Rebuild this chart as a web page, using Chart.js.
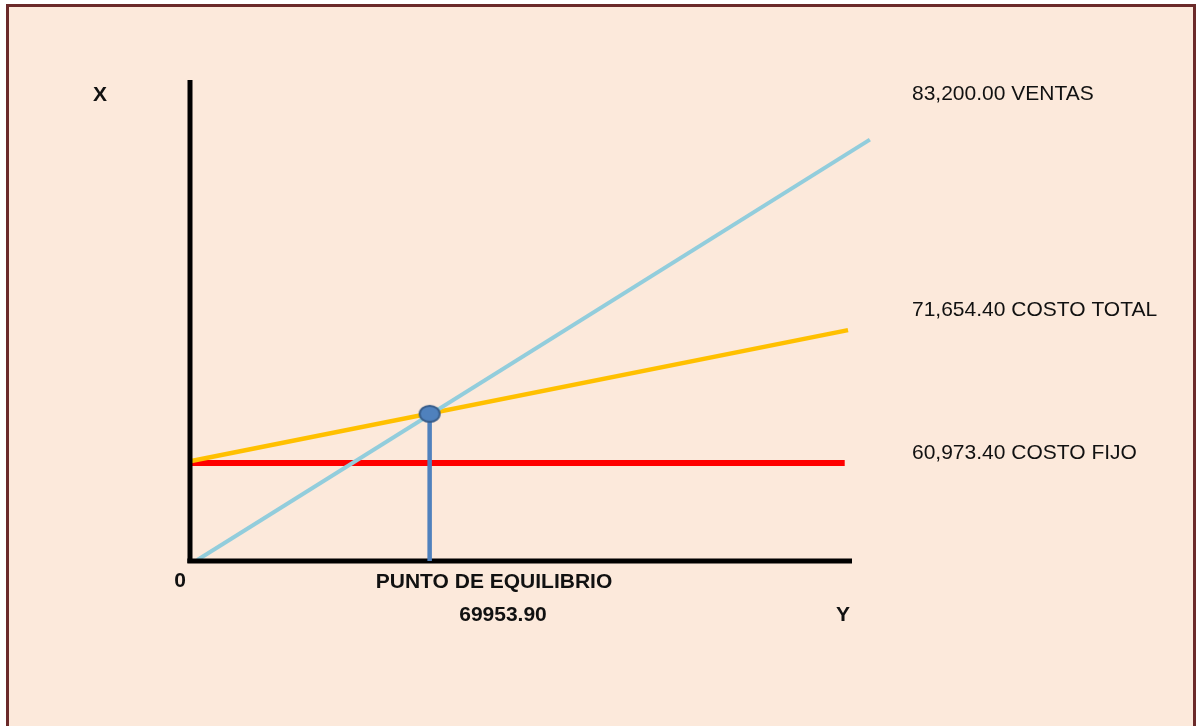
<!DOCTYPE html>
<html><head><meta charset="utf-8">
<script src="https://cdn.jsdelivr.net/npm/chart.js@4.4.1/dist/chart.umd.min.js"></script>
<style>html,body{margin:0;padding:0;background:#fff;}canvas{display:block}</style>
</head>
<body>
<canvas id="c" width="1198" height="726"></canvas>
<script>
// Abstract units: x 0..100 (volume), y 0..100 (amount)
const ventas = [{x:1.1, y:0.2}, {x:102.7, y:87.6}];
const costoTotal = [{x:0.2, y:20.8}, {x:99.4, y:48.0}];
const costoFijo = [{x:0, y:20.4}, {x:98.9, y:20.4}];
const puntoEquilibrio = [{x:36.2, y:30.6}];
const lineaEquilibrio = [{x:36.2, y:0}, {x:36.2, y:30.6}];
const ejeX = [{x:-0.4, y:0}, {x:100, y:0}];
const ejeY = [{x:0, y:-0.4}, {x:0, y:100}];
const etiquetasDerecha = ['83,200.00 VENTAS', '71,654.40 COSTO TOTAL', '60,973.40 COSTO FIJO'];
const etiquetaEjeVertical = 'X';
const etiquetaEjeHorizontal = 'Y';
const etiquetaOrigen = '0';
const etiquetaEquilibrio = 'PUNTO DE EQUILIBRIO';
const valorEquilibrio = '69953.90';

const FONT = '"Liberation Sans", Arial, sans-serif';

// ellipse marker
const marker = document.createElement('canvas');
marker.width = 24; marker.height = 20;
(function(){
  const m = marker.getContext('2d');
  m.beginPath();
  m.ellipse(12, 10, 10, 8, 0, 0, Math.PI*2);
  m.fillStyle = '#4F81BD';
  m.fill();
  m.lineWidth = 2;
  m.strokeStyle = '#385D8A';
  m.stroke();
})();

const bgPlugin = {
  id: 'bg',
  beforeDraw(chart) {
    const ctx = chart.ctx;
    ctx.save();
    ctx.fillStyle = '#ffffff';
    ctx.fillRect(0, 0, chart.width, chart.height);
    ctx.fillStyle = '#FCE9DB';
    ctx.fillRect(9, 7, 1184, 726);
    ctx.strokeStyle = '#6B2A2A';
    ctx.lineWidth = 3;
    ctx.beginPath();
    ctx.moveTo(7.5, 740); ctx.lineTo(7.5, 5.5); ctx.lineTo(1194.5, 5.5); ctx.lineTo(1194.5, 740);
    ctx.stroke();
    ctx.restore();
  },
  afterDraw(chart) {
    const ctx = chart.ctx;
    const xs = chart.scales.x, ys = chart.scales.y;
    ctx.save();
    ctx.fillStyle = '#111111';
    ctx.textBaseline = 'middle';
    ctx.font = 'bold 21px ' + FONT;
    ctx.textAlign = 'center';
    ctx.fillText(etiquetaEjeVertical, 100, 95);
    ctx.fillText(etiquetaOrigen, xs.getPixelForValue(0) - 10, 581);
    ctx.fillText(etiquetaEquilibrio, 494, 582);
    ctx.fillText(valorEquilibrio, 503, 615);
    ctx.fillText(etiquetaEjeHorizontal, 843, 615);
    ctx.font = '21px ' + FONT;
    ctx.textAlign = 'left';
    const ysPix = [94, 310, 453];
    etiquetasDerecha.forEach((t, i) => ctx.fillText(t, 912, ysPix[i]));
    ctx.restore();
  }
};

new Chart(document.getElementById('c'), {
  type: 'scatter',
  data: {
    datasets: [
      { label: 'Punto', data: puntoEquilibrio, pointStyle: marker, pointRadius: 10, showLine: false, order: 0 },
      { label: 'Ventas', data: ventas, showLine: true, borderColor: '#92CDDC', borderWidth: 4, pointRadius: 0, order: 3 },
      { label: 'Costo total', data: costoTotal, showLine: true, borderColor: '#FFC000', borderWidth: 4.5, pointRadius: 0, order: 4 },
      { label: 'Costo fijo', data: costoFijo, showLine: true, borderColor: '#FF0000', borderWidth: 6, pointRadius: 0, order: 5 },
      { label: 'Linea equilibrio', data: lineaEquilibrio, showLine: true, borderColor: '#4F81BD', borderWidth: 4.5, pointRadius: 0, order: 1 },
      { label: 'Eje X', data: ejeX, showLine: true, borderColor: '#000000', borderWidth: 5, pointRadius: 0, order: 2 },
      { label: 'Eje Y', data: ejeY, showLine: true, borderColor: '#000000', borderWidth: 5, pointRadius: 0, order: 2 }
    ]
  },
  options: {
    responsive: false,
    animation: false,
    clip: false,
    layout: { padding: { left: 190, right: 346, top: 80, bottom: 165 } },
    scales: {
      x: { type: 'linear', min: 0, max: 100, display: false },
      y: { type: 'linear', min: 0, max: 100, display: false }
    },
    plugins: { legend: { display: false }, tooltip: { enabled: false } },
    datasets: { scatter: { clip: false } }
  },
  plugins: [bgPlugin]
});
</script>
</body></html>
